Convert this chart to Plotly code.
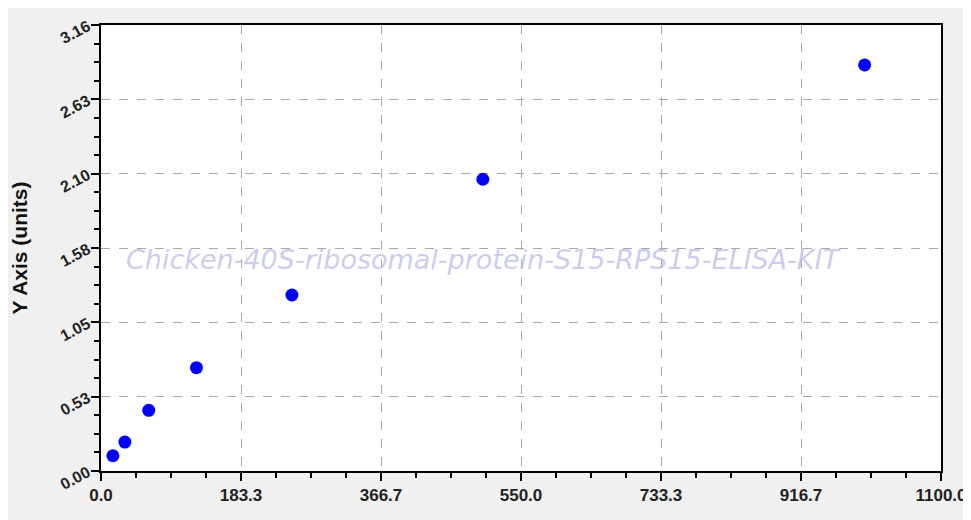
import plotly.graph_objects as go

# standard curve points
concentration = [15.6, 31.25, 62.5, 125, 250, 500, 1000]
od_values = [0.108, 0.205, 0.430, 0.732, 1.247, 2.067, 2.877]

x_ticks = [0, 183.33, 366.67, 550, 733.33, 916.67, 1100]
x_labels = ["0.0", "183.3", "366.7", "550.0", "733.3", "916.7", "1100.0"]
y_ticks = [0, 0.5267, 1.0533, 1.58, 2.1067, 2.6333, 3.16]
y_labels = ["0.00", "0.53", "1.05", "1.58", "2.10", "2.63", "3.16"]

watermark = "Chicken-40S-ribosomal-protein-S15-RPS15-ELISA-KIT"

fig = go.Figure()
fig.add_trace(go.Scatter(
    x=concentration, y=od_values, mode="markers",
    marker=dict(color="#0000ff", size=13),
    showlegend=False,
))

fig.update_xaxes(
    range=[0, 1100], tickvals=x_ticks, ticktext=["<b>%s</b>" % t for t in x_labels],
    showline=True, linecolor="black", linewidth=2, mirror=True,
    ticks="outside", ticklen=8, tickwidth=1.5, tickcolor="black",
    showgrid=True, gridcolor="#a8a8a8", griddash="dash", gridwidth=1,
    zeroline=False, tickfont=dict(family="Arial", size=17, color="#222222"), automargin=False,
    minor=dict(dtick=1100 / 24, ticks="outside", ticklen=5, tickcolor="black", showgrid=False),
)
fig.update_yaxes(
    range=[0, 3.16], tickvals=y_ticks, ticktext=["<b>%s</b>" % t for t in y_labels], tickangle=-28,
    showline=True, linecolor="black", linewidth=2, mirror=True,
    ticks="outside", ticklen=8, tickwidth=1.5, tickcolor="black",
    showgrid=True, gridcolor="#a8a8a8", griddash="dash", gridwidth=1,
    zeroline=False, tickfont=dict(family="Arial", size=16, color="#222222"), automargin=False,
    minor=dict(dtick=3.16 / 24, ticks="outside", ticklen=5, tickcolor="black", showgrid=False),
    title=dict(text="<b>Y Axis (units)</b>", font=dict(family="Arial", size=21, color="#111111"), standoff=30),
)

fig.add_annotation(
    x=0.456, y=0.475, xref="paper", yref="paper", text="<i>" + watermark + "</i>",
    showarrow=False, font=dict(family="DejaVu Sans", size=27, color="rgba(170,170,230,0.6)"),
)

# page body has an 8px margin, so the figure is shrunk and shifted to compensate
fig.update_layout(
    width=963, height=512,
    paper_bgcolor="#f0f0f0", plot_bgcolor="white",
    margin=dict(l=93, r=30, t=17, b=49),
)

fig.write_html("out.html")
